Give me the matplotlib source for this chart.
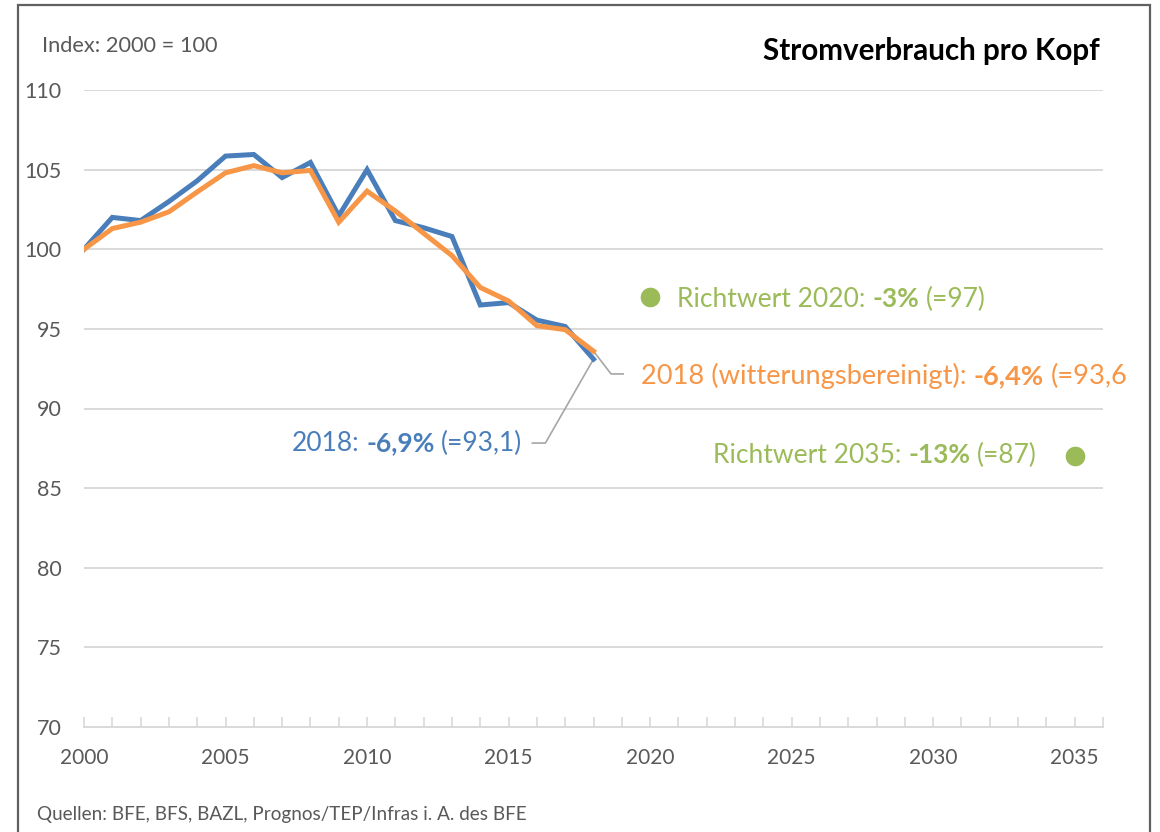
import matplotlib
matplotlib.use("Agg")
import matplotlib.pyplot as plt
from matplotlib.transforms import IdentityTransform
from matplotlib.patches import Rectangle

years = list(range(2000, 2019))
blue_vals = [100.0, 102.0, 101.8, 103.0, 104.3, 105.85, 105.95, 104.5, 105.45, 102.1,
             105.0, 101.8, 101.35, 100.8, 96.5, 96.65, 95.55, 95.15, 93.1]
orange_vals = [100.0, 101.3, 101.7, 102.35, 103.6, 104.8, 105.25, 104.8, 104.95, 101.7,
               103.65, 102.4, 101.0, 99.6, 97.6, 96.75, 95.2, 94.95, 93.6]
target_years = [2020, 2035]
target_vals = [97, 87]
xtick_labels = [2000, 2005, 2010, 2015, 2020, 2025, 2030, 2035]
ytick_vals = [70, 75, 80, 85, 90, 95, 100, 105, 110]

BLUE = "#4A7EBB"
ORANGE = "#F79646"
GREEN = "#9BBB59"
GRAY_TXT = "#595959"
FONT = "Lato"

plt.rcParams["font.family"] = [FONT, "DejaVu Sans"]

fig = plt.figure(figsize=(11.6, 8.32), dpi=100)
ax = fig.add_axes([84 / 1160, 1 - 727 / 832, (1103 - 84) / 1160, (727 - 90) / 832])

ax.set_xlim(2000, 2036)
ax.set_ylim(70, 110)
for v in ytick_vals[1:]:
    ax.axhline(v, color="#D9D9D9", lw=1.4, zorder=0)
for s in ["top", "right", "left"]:
    ax.spines[s].set_visible(False)
ax.spines["bottom"].set_color("#D9D9D9")
ax.spines["bottom"].set_linewidth(1.4)

ax.set_yticks(ytick_vals)
ax.set_yticklabels([str(v) for v in ytick_vals], fontsize=15.5, color=GRAY_TXT)
ax.tick_params(axis="y", length=0, pad=16)
ax.set_xticks(range(2000, 2037), minor=True)
ax.set_xticks(xtick_labels)
ax.set_xticklabels([str(v) for v in xtick_labels], fontsize=15, color=GRAY_TXT)
ax.tick_params(axis="x", which="both", direction="in", length=7, color="#D9D9D9",
               width=1.2, pad=15)

ax.plot(years, blue_vals, color=BLUE, lw=3.6, solid_joinstyle="miter", zorder=3)
ax.plot(years, orange_vals, color=ORANGE, lw=3.6, solid_joinstyle="miter", zorder=4)
ax.scatter(target_years, target_vals, s=200, color=GREEN, zorder=5, linewidths=0)

# leader lines
ax.plot([2018, 2018.62, 2019.05], [orange_vals[-1], 92.17, 92.17], color="#A6A6A6", lw=1.2, zorder=2)
ax.plot([2018, 2016.3, 2015.84], [blue_vals[-1], 87.83, 87.83], color="#A6A6A6", lw=1.2, zorder=2)

fig.canvas.draw()
renderer = fig.canvas.get_renderer()


def measure(s, weight, size):
    t = fig.text(0, 0, s, fontsize=size, fontweight=weight, transform=IdentityTransform())
    w = t.get_window_extent(renderer).width
    t.remove()
    return w


def rich(x, y, parts, color, size, trans, ha="left"):
    x0, y0 = trans.transform((x, y))
    sp = measure("a a", "normal", size) - measure("aa", "normal", size)
    widths = []
    for s, wgt in parts:
        widths.append(measure(s.strip(), wgt, size))
    total = 0
    for (s, wgt), w in zip(parts, widths):
        lead = len(s) - len(s.lstrip())
        trail = len(s) - len(s.rstrip())
        total += lead * sp + w + trail * sp
    if ha == "right":
        x0 -= total
    cur = x0
    for (s, wgt), w in zip(parts, widths):
        lead = len(s) - len(s.lstrip())
        trail = len(s) - len(s.rstrip())
        cur += lead * sp
        fig.text(cur, y0, s.strip(), fontsize=size, fontweight=wgt, color=color,
                 transform=IdentityTransform(), va="baseline", ha="left")
        cur += w + trail * sp


SZ = 19
rich(2020.95, 96.37, [("Richtwert 2020: ", "normal"), ("-3%", "bold"), (" (=97)", "normal")],
     GREEN, SZ, ax.transData)
rich(2019.68, 91.54, [("2018 (witterungsbereinigt): ", "normal"), ("-6,4%", "bold"), (" (=93,6", "normal")],
     ORANGE, 19.6, ax.transData)
rich(2015.49, 87.33, [("2018: ", "normal"), ("-6,9%", "bold"), (" (=93,1)", "normal")],
     BLUE, SZ, ax.transData, ha="right")
rich(2022.22, 86.58, [("Richtwert 2035: ", "normal"), ("-13%", "bold"), (" (=87)", "normal")],
     GREEN, SZ, ax.transData)

fig.text(42 / 1160, 1 - 52 / 832, "Index: 2000 = 100", fontsize=15.7, color=GRAY_TXT, va="baseline")
fig.text(1100 / 1160, 1 - 60 / 832, "Stromverbrauch pro Kopf", fontsize=21.3, fontweight="bold",
         color="black", ha="right", va="baseline")
fig.text(37 / 1160, 1 - 820 / 832, "Quellen: BFE, BFS, BAZL, Prognos/TEP/Infras i. A. des BFE",
         fontsize=13.6, color=GRAY_TXT, va="baseline")

# frame
fig.add_artist(Rectangle((18 / 1160, -0.05), (1150 - 18) / 1160, 1.05 - 5 / 832,
                         transform=fig.transFigure, fill=False, edgecolor="#606060", lw=1.6))

fig.savefig("out.png", dpi=100)
